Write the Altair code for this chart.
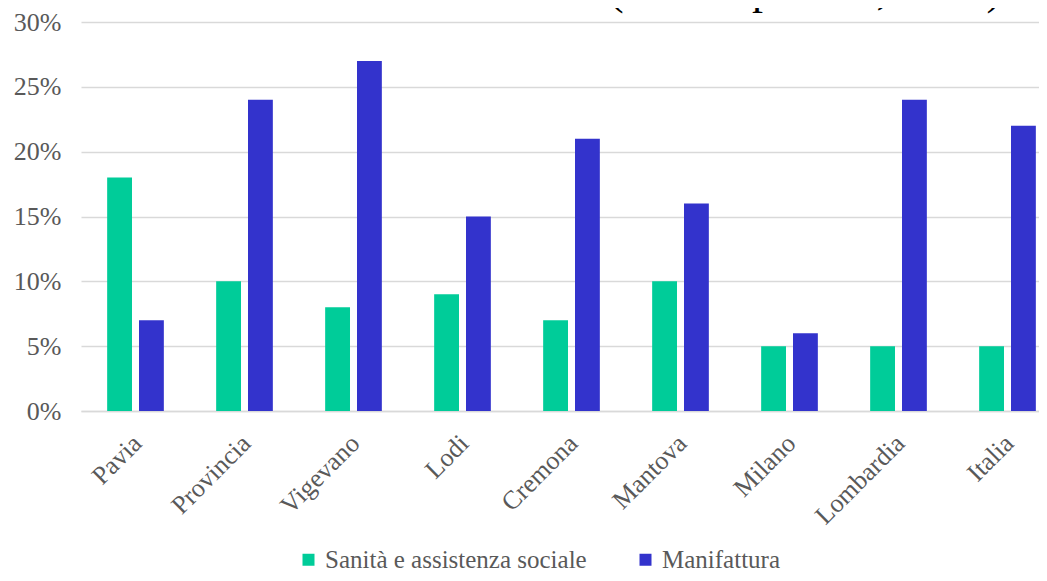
import altair as alt
import pandas as pd

categories = ["Pavia", "Provincia", "Vigevano", "Lodi", "Cremona",
              "Mantova", "Milano", "Lombardia", "Italia"]
series_names = ["Sanità e assistenza sociale", "Manifattura"]
sanita = [18, 10, 8, 9, 7, 10, 5, 5, 5]
manifattura = [7, 24, 27, 15, 21, 16, 6, 24, 22]
y_ticks = [0, 0.05, 0.10, 0.15, 0.20, 0.25, 0.30]
title_text = "% addetti unità locali (settore privato, 2021)"
colors = ["#00CC99", "#3333CC"]

rows = []
for i, c in enumerate(categories):
    rows.append({"cat": c, "serie": series_names[0], "val": sanita[i] / 100})
    rows.append({"cat": c, "serie": series_names[1], "val": manifattura[i] / 100})
df = pd.DataFrame(rows)

FONT = "Liberation Serif"
GREY = "#595959"

bars = alt.Chart(df).mark_bar().encode(
    x=alt.X("cat:N", sort=categories, title=None,
            scale=alt.Scale(range=[0, 981], paddingInner=0.48, paddingOuter=0.24),
            axis=alt.Axis(labelAngle=-45, labelFont=FONT, labelFontSize=26,
                          labelColor=GREY, ticks=False, tickSize=0,
                          labelPadding=28, domainColor="#D9D9D9",
                          domainWidth=1.5, labelAlign="right",
                          labelBaseline="middle", labelOffset=2)),
    xOffset=alt.XOffset("serie:N", sort=series_names,
                        scale=alt.Scale(paddingInner=0.22)),
    y=alt.Y("val:Q", title=None,
            scale=alt.Scale(domain=[0, 0.30], nice=False),
            axis=alt.Axis(values=y_ticks, format=".0%", labelFont=FONT,
                          labelFontSize=26, labelColor=GREY, ticks=False,
                          tickSize=0, labelPadding=20, domain=False,
                          gridColor="#D9D9D9", gridWidth=1.5)),
    color=alt.Color("serie:N", sort=series_names,
                    scale=alt.Scale(domain=series_names, range=colors),
                    legend=alt.Legend(title=None, orient="none",
                                      direction="horizontal",
                                      legendX=215, legendY=525,
                                      symbolType="square", symbolSize=144,
                                      symbolStrokeWidth=0,
                                      labelFont=FONT, labelFontSize=25,
                                      labelColor=GREY, columnPadding=46,
                                      labelOffset=4, padding=0,
                                      labelLimit=400)),
)

title = alt.Chart(pd.DataFrame({"t": [title_text]})).mark_text(
    font=FONT, fontSize=44, color="black", align="center",
    baseline="alphabetic"
).encode(text="t:N", x=alt.value(531), y=alt.value(-18))

chart = alt.layer(bars, title).properties(
    width=958, height=389,
    autosize=alt.AutoSizeParams(type="none"),
    padding={"left": 73, "top": 14, "right": 0, "bottom": 162},
).configure_view(stroke=None)

chart.save("out.html", embed_options={"renderer": "svg", "actions": False})
